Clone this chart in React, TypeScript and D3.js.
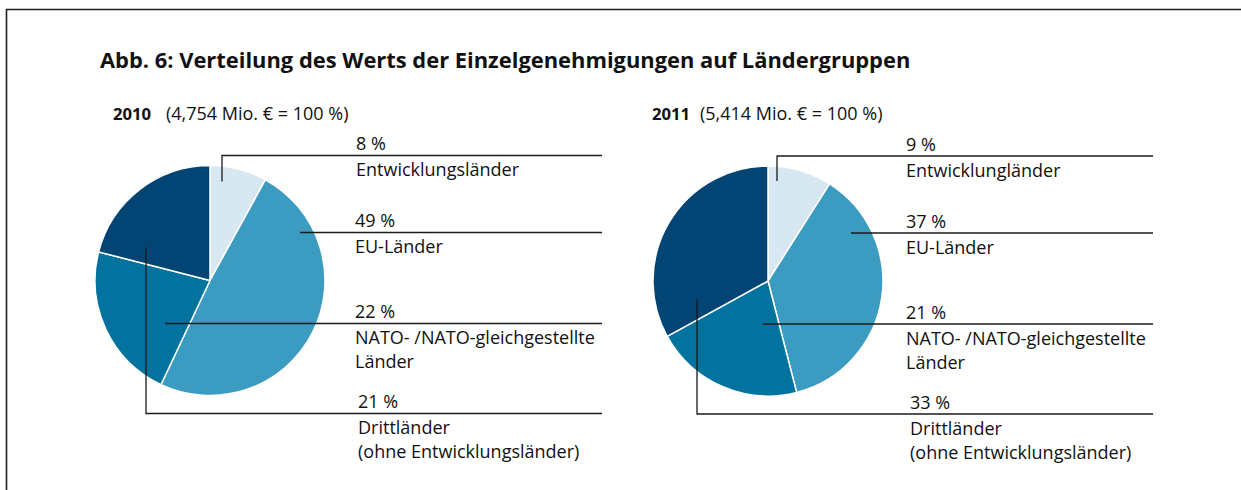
import React, { useEffect, useRef } from 'react';
import * as d3 from 'd3';

const W = 1241;
const H = 490;

const years = ['2010', '2011'];
const totals = ['(4,754 Mio. € = 100 %)', '(5,414 Mio. € = 100 %)'];
const values2010 = [8, 49, 22, 21];
const values2011 = [9, 37, 21, 33];
const labels2010 = [
  ['Entwicklungsländer'],
  ['EU-Länder'],
  ['NATO- /NATO-gleichgestellte', 'Länder'],
  ['Drittländer', '(ohne Entwicklungsländer)'],
];
const labels2011 = [
  ['Entwicklungländer'],
  ['EU-Länder'],
  ['NATO- /NATO-gleichgestellte', 'Länder'],
  ['Drittländer', '(ohne Entwicklungsländer)'],
];
const colors = ['#d7e8f2', '#3b9bc0', '#01739e', '#024474'];

// layout of each pie block: center, label column, leader line end
const blocks = [
  {
    cx: 210, cy: 280.5, textX: 355, lineEnd: 602, yearX: 113, totalX: 166,
    // leaders relative to the center
    leaders: [
      { x0: 12, y0: -99, lineY: 155.5, textDx: 1 },
      { x0: 90, y0: -48, lineY: 232.5, textDx: 0 },
      { x0: -45, y0: 43, lineY: 323.5, textDx: 0 },
      { x0: -64, y0: -33, lineY: 413.5, textDx: 3 },
    ],
  },
  {
    cx: 768, cy: 281, textX: 906, lineEnd: 1153, yearX: 652, totalX: 700,
    leaders: [
      { x0: 9, y0: -100, lineY: 156, textDx: 0 },
      { x0: 83, y0: -48, lineY: 233, textDx: 0 },
      { x0: -5, y0: 43, lineY: 324, textDx: 0 },
      { x0: -71, y0: 18, lineY: 414, textDx: 4 },
    ],
  },
];

const FONT = "'Open Sans', 'Noto Sans', sans-serif";

const App = () => {
  const svgRef = useRef(null);

  useEffect(() => {
    const svg = d3.select(svgRef.current);
    svg.selectAll('*').remove();

    // frame: top and left rule
    svg.append('path')
      .attr('d', `M6.5,${H} V9.5 H${W}`)
      .attr('fill', 'none')
      .attr('stroke', '#1f1f1f')
      .attr('stroke-width', 1.6);

    svg.append('text')
      .attr('x', 100)
      .attr('y', 68)
      .attr('font-family', FONT)
      .attr('font-weight', 700)
      .attr('font-size', 21.9)
      .attr('fill', '#111')
      .text('Abb. 6: Verteilung des Werts der Einzelgenehmigungen auf Ländergruppen');

    const radius = 115;
    const pie = d3.pie().sort(null).value((d) => d);
    const arc = d3.arc().innerRadius(0).outerRadius(radius);

    const datasets = [values2010, values2011];
    const labelSets = [labels2010, labels2011];

    datasets.forEach((values, i) => {
      const b = blocks[i];
      const g = svg.append('g');

      // heading
      g.append('text')
        .attr('x', b.yearX)
        .attr('y', 120)
        .attr('font-family', FONT)
        .attr('font-weight', 700)
        .attr('font-size', 16.7)
        .attr('fill', '#111')
        .text(years[i]);
      g.append('text')
        .attr('x', b.totalX)
        .attr('y', 120)
        .attr('font-family', FONT)
        .attr('font-size', 18)
        .attr('fill', '#111')
        .text(totals[i]);

      // slices
      g.append('g')
        .attr('transform', `translate(${b.cx},${b.cy})`)
        .selectAll('path')
        .data(pie(values))
        .join('path')
        .attr('d', arc)
        .attr('fill', (d, j) => colors[j])
        .attr('stroke', '#fff')
        .attr('stroke-width', 1.5)
        .attr('stroke-linejoin', 'round');

      // leader lines and labels
      b.leaders.forEach((l, j) => {
        const sx = b.cx + l.x0;
        const sy = b.cy + l.y0;
        const d = Math.abs(sy - l.lineY) < 1
          ? `M${sx},${l.lineY} H${b.lineEnd}`
          : `M${sx},${sy} V${l.lineY} H${b.lineEnd}`;
        g.append('path')
          .attr('d', d)
          .attr('fill', 'none')
          .attr('stroke', '#1a1a1a')
          .attr('stroke-width', 1.3);

        const tx = b.textX + l.textDx;
        g.append('text')
          .attr('x', tx)
          .attr('y', l.lineY - 5.5)
          .attr('font-family', FONT)
          .attr('font-size', 18)
          .attr('fill', '#111')
          .text(`${values[j]} %`);
        labelSets[i][j].forEach((line, k) => {
          g.append('text')
            .attr('x', tx)
            .attr('y', l.lineY + 20.5 + k * 24)
            .attr('font-family', FONT)
            .attr('font-size', 18)
            .attr('fill', '#111')
            .text(line);
        });
      });
    });
  }, []);

  return (
    <svg
      ref={svgRef}
      width={W}
      height={H}
      style={{ position: 'absolute', left: 0, top: 0, background: '#fff' }}
    />
  );
};

export default App;
